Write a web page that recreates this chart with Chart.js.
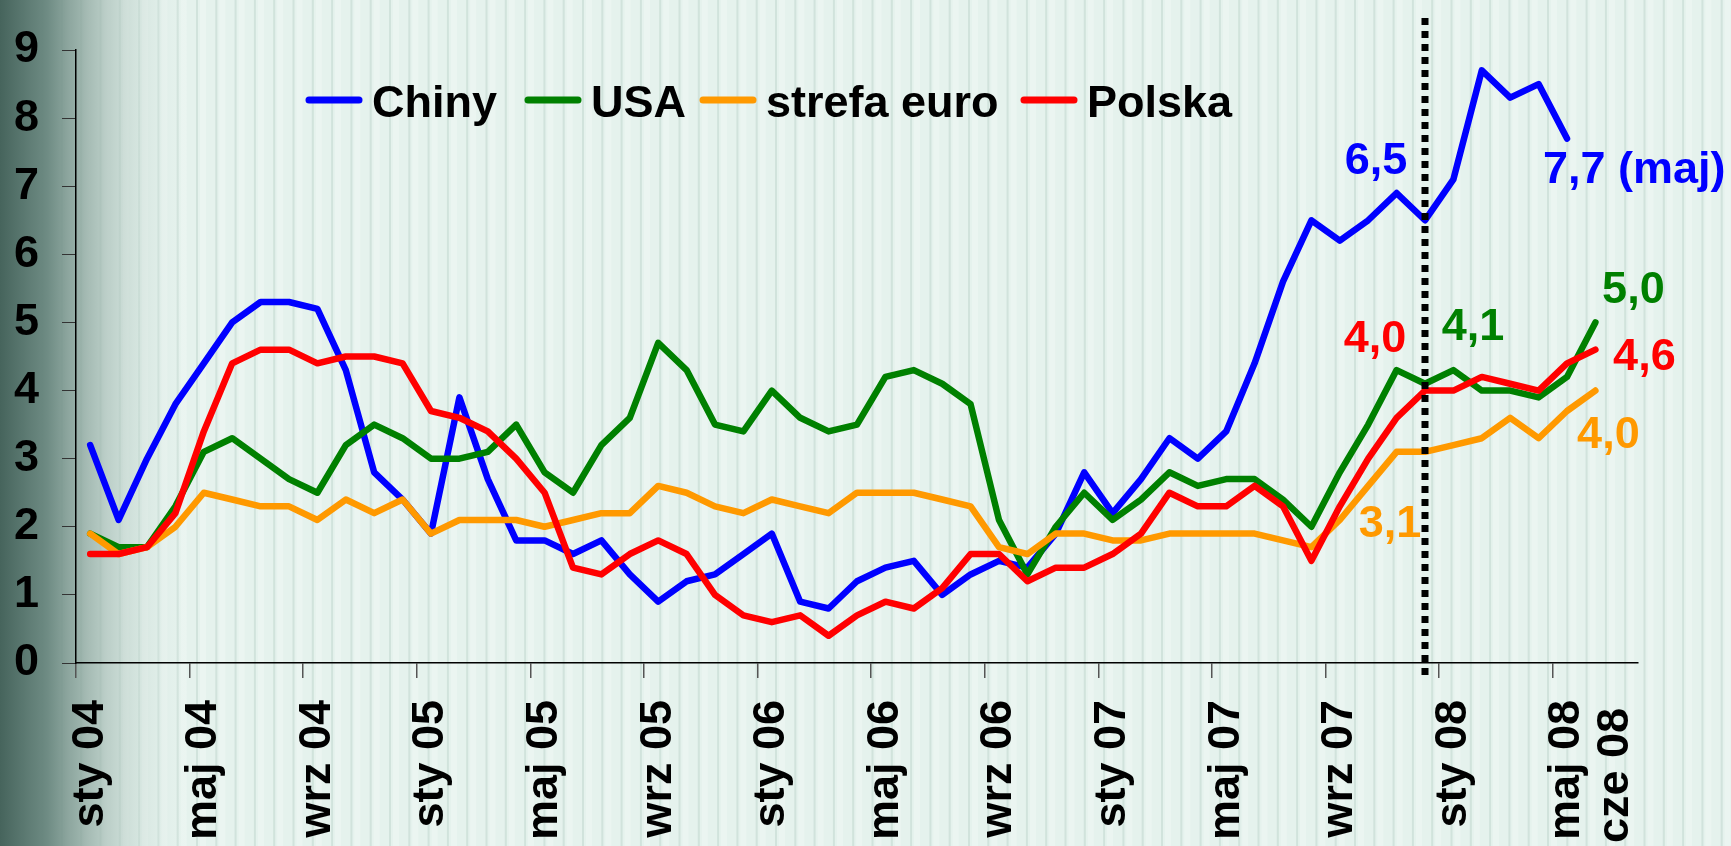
<!DOCTYPE html>
<html lang="pl">
<head>
    <meta charset="UTF-8">
    <title>Inflacja CPI</title>
    <script src="https://cdn.jsdelivr.net/npm/chart.js"></script>
    <style>
        html, body {
            margin: 0;
            padding: 0;
            background: #e5f2ed;
        }

        #wrap {
            position: relative;
            width: 1731px;
            height: 846px;
        }
    </style>
</head>
<body>
    <div id="wrap">
        <canvas id="myChart"></canvas>
    </div>

    <script>
        // miesiace sty 04 - lip 08 (ostatnia kategoria pusta)
        const categories = [
            "sty 04", "lut 04", "mar 04", "kwi 04", "maj 04", "cze 04", "lip 04", "sie 04", "wrz 04", "paź 04", "lis 04", "gru 04",
            "sty 05", "lut 05", "mar 05", "kwi 05", "maj 05", "cze 05", "lip 05", "sie 05", "wrz 05", "paź 05", "lis 05", "gru 05",
            "sty 06", "lut 06", "mar 06", "kwi 06", "maj 06", "cze 06", "lip 06", "sie 06", "wrz 06", "paź 06", "lis 06", "gru 06",
            "sty 07", "lut 07", "mar 07", "kwi 07", "maj 07", "cze 07", "lip 07", "sie 07", "wrz 07", "paź 07", "lis 07", "gru 07",
            "sty 08", "lut 08", "mar 08", "kwi 08", "maj 08", "cze 08", "lip 08"
        ];

        const chiny = [
            3.2, 2.1, 3.0, 3.8, 4.4, 5.0, 5.3, 5.3, 5.2, 4.3, 2.8, 2.4,
            1.9, 3.9, 2.7, 1.8, 1.8, 1.6, 1.8, 1.3, 0.9, 1.2, 1.3, 1.6,
            1.9, 0.9, 0.8, 1.2, 1.4, 1.5, 1.0, 1.3, 1.5, 1.4, 1.9, 2.8,
            2.2, 2.7, 3.3, 3.0, 3.4, 4.4, 5.6, 6.5, 6.2, 6.5, 6.9, 6.5,
            7.1, 8.7, 8.3, 8.5, 7.7
        ];

        const usa = [
            1.9, 1.7, 1.7, 2.3, 3.1, 3.3, 3.0, 2.7, 2.5, 3.2, 3.5, 3.3,
            3.0, 3.0, 3.1, 3.5, 2.8, 2.5, 3.2, 3.6, 4.7, 4.3, 3.5, 3.4,
            4.0, 3.6, 3.4, 3.5, 4.2, 4.3, 4.1, 3.8, 2.1, 1.3, 2.0, 2.5,
            2.1, 2.4, 2.8, 2.6, 2.7, 2.7, 2.4, 2.0, 2.8, 3.5, 4.3, 4.1,
            4.3, 4.0, 4.0, 3.9, 4.2, 5.0
        ];

        const strefaEuro = [
            1.9, 1.6, 1.7, 2.0, 2.5, 2.4, 2.3, 2.3, 2.1, 2.4, 2.2, 2.4,
            1.9, 2.1, 2.1, 2.1, 2.0, 2.1, 2.2, 2.2, 2.6, 2.5, 2.3, 2.2,
            2.4, 2.3, 2.2, 2.5, 2.5, 2.5, 2.4, 2.3, 1.7, 1.6, 1.9, 1.9,
            1.8, 1.8, 1.9, 1.9, 1.9, 1.9, 1.8, 1.7, 2.1, 2.6, 3.1, 3.1,
            3.2, 3.3, 3.6, 3.3, 3.7, 4.0
        ];

        const polska = [
            1.6, 1.6, 1.7, 2.2, 3.4, 4.4, 4.6, 4.6, 4.4, 4.5, 4.5, 4.4,
            3.7, 3.6, 3.4, 3.0, 2.5, 1.4, 1.3, 1.6, 1.8, 1.6, 1.0, 0.7,
            0.6, 0.7, 0.4, 0.7, 0.9, 0.8, 1.1, 1.6, 1.6, 1.2, 1.4, 1.4,
            1.6, 1.9, 2.5, 2.3, 2.3, 2.6, 2.3, 1.5, 2.3, 3.0, 3.6, 4.0,
            4.0, 4.2, 4.1, 4.0, 4.4, 4.6
        ];

        const yTicks = [0, 1, 2, 3, 4, 5, 6, 7, 8, 9];
        const markIndex = 47; // gru 07 - linia kropkowana
        const lastLabel = "cze 08";

        const FONT = "'Liberation Sans', Arial, sans-serif";
        const FS = 45;

        // podpisy wartosci: seria, indeks, dopisek, przesuniecie w px
        const callouts = [
            { ds: 0, i: 47, suffix: "", dx: -49, dy: -46, align: "center" },
            { ds: 0, i: 52, suffix: " (maj)", dx: -24, dy: 44, align: "left" },
            { ds: 1, i: 47, suffix: "", dx: 48, dy: -44, align: "center" },
            { ds: 1, i: 53, suffix: "", dx: 38, dy: -19, align: "center" },
            { ds: 3, i: 47, suffix: "", dx: -50, dy: -39, align: "center" },
            { ds: 3, i: 53, suffix: "", dx: 49, dy: 20, align: "center" },
            { ds: 2, i: 47, suffix: "", dx: -35, dy: 85, align: "center" },
            { ds: 2, i: 53, suffix: "", dx: 13, dy: 57, align: "center" }
        ];

        const tlo = {
            id: "tlo",
            beforeDraw(chart) {
                const ctx = chart.ctx;
                const w = chart.width, h = chart.height;
                ctx.save();
                ctx.fillStyle = "#e5f2ed";
                ctx.fillRect(0, 0, w, h);
                // pionowe paski
                for (let x = 3; x < w; x += 19.3) {
                    ctx.fillStyle = "rgba(120,160,145,0.18)";
                    ctx.fillRect(x, 0, 2, h);
                    ctx.fillStyle = "rgba(255,255,255,0.25)";
                    ctx.fillRect(x + 4, 0, 6, h);
                }
                const g = ctx.createLinearGradient(0, 0, 190, 0);
                g.addColorStop(0, "rgba(70,100,92,1)");
                g.addColorStop(0.25, "rgba(104,134,126,0.95)");
                g.addColorStop(0.45, "rgba(145,170,162,0.8)");
                g.addColorStop(0.7, "rgba(190,210,203,0.5)");
                g.addColorStop(1, "rgba(229,242,237,0)");
                ctx.fillStyle = g;
                ctx.fillRect(0, 0, 190, h);
                ctx.restore();
            }
        };

        const dodatki = {
            id: "dodatki",
            afterDatasetsDraw(chart) {
                const ctx = chart.ctx;
                const x = chart.scales.x.getPixelForValue(markIndex);
                ctx.save();
                ctx.strokeStyle = "#000";
                ctx.lineWidth = 7;
                ctx.setLineDash([7, 6]);
                ctx.beginPath();
                ctx.moveTo(x, chart.chartArea.top - 32);
                ctx.lineTo(x, chart.chartArea.bottom + 12);
                ctx.stroke();
                ctx.restore();
            },
            afterDraw(chart) {
                const ctx = chart.ctx;
                const xs = chart.scales.x, ys = chart.scales.y;
                ctx.save();
                ctx.font = "bold " + FS + "px " + FONT;

                // legenda
                const legendX = [306, 525, 700, 1021];
                chart.data.datasets.forEach((ds, k) => {
                    const lx = legendX[k];
                    ctx.strokeStyle = ds.borderColor;
                    ctx.lineWidth = 7;
                    ctx.lineCap = "round";
                    ctx.beginPath();
                    ctx.moveTo(lx + 3, 100);
                    ctx.lineTo(lx + 53, 100);
                    ctx.stroke();
                    ctx.fillStyle = "#000";
                    ctx.textAlign = "left";
                    ctx.textBaseline = "alphabetic";
                    ctx.fillText(ds.label, lx + 66, 117);
                });

                // podpisy wartosci
                callouts.forEach(c => {
                    const ds = chart.data.datasets[c.ds];
                    const v = ds.data[c.i];
                    const px = xs.getPixelForValue(c.i) + c.dx;
                    const py = ys.getPixelForValue(v) + c.dy;
                    ctx.fillStyle = ds.borderColor;
                    ctx.textAlign = c.align;
                    ctx.textBaseline = "alphabetic";
                    ctx.fillText(v.toFixed(1).replace(".", ",") + c.suffix, px, py);
                });

                // ostatni podpis osi x
                const lx = xs.getPixelForValue(53) + 20;
                ctx.translate(lx, xs.top + 45);
                ctx.rotate(-Math.PI / 2);
                ctx.fillStyle = "#000";
                ctx.textAlign = "right";
                ctx.textBaseline = "middle";
                ctx.fillText(lastLabel, 0, 0);
                ctx.restore();
            }
        };

        const ctx = document.getElementById("myChart").getContext("2d");
        new Chart(ctx, {
            type: "line",
            data: {
                labels: categories,
                datasets: [
                    { label: "Chiny", data: chiny, borderColor: "#0000ff", order: 4 },
                    { label: "USA", data: usa, borderColor: "#008000", order: 3 },
                    { label: "strefa euro", data: strefaEuro, borderColor: "#ff9900", order: 2 },
                    { label: "Polska", data: polska, borderColor: "#ff0000", order: 1 }
                ].map(d => Object.assign(d, {
                    borderWidth: 6.5,
                    pointRadius: 0,
                    tension: 0,
                    fill: false,
                    borderJoinStyle: "round",
                    borderCapStyle: "round"
                }))
            },
            options: {
                responsive: true,
                maintainAspectRatio: false,
                animation: false,
                layout: {
                    padding: { left: 0, right: 93, top: 44, bottom: 0 }
                },
                plugins: {
                    legend: { display: false },
                    tooltip: { enabled: false }
                },
                scales: {
                    x: {
                        type: "category",
                        offset: true,
                        afterFit: s => { s.height = 183; },
                        border: { display: true, color: "#000", width: 1.5 },
                        grid: {
                            offset: true,
                            drawOnChartArea: false,
                            tickLength: 15,
                            lineWidth: 1.5,
                            color: c => (c.index % 4 === 0 && c.index < 54) ? "#555" : "rgba(0,0,0,0)"
                        },
                        ticks: {
                            autoSkip: false,
                            minRotation: 90,
                            maxRotation: 90,
                            padding: 22,
                            color: "#000",
                            font: { family: FONT, size: FS, weight: "bold" },
                            callback: (v, i) => (i % 4 === 0 && i < 53) ? categories[i] : ""
                        }
                    },
                    y: {
                        min: 0,
                        max: 9,
                        afterFit: s => { s.width = 76; },
                        afterBuildTicks: s => { s.ticks = yTicks.map(v => ({ value: v })); },
                        border: { display: true, color: "#000", width: 1.5 },
                        grid: {
                            drawOnChartArea: false,
                            tickLength: 14,
                            color: "#333"
                        },
                        ticks: {
                            padding: 23,
                            color: "#000",
                            font: { family: FONT, size: FS, weight: "bold" }
                        }
                    }
                }
            },
            plugins: [tlo, dodatki]
        });
    </script>
</body>
</html>
